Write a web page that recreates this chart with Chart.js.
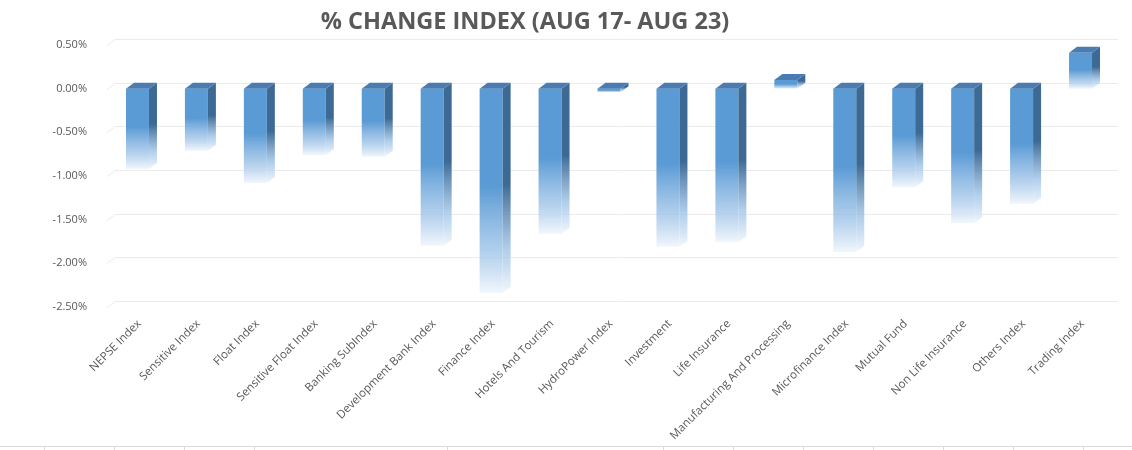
<!DOCTYPE html>
<html>
<head>
<meta charset="utf-8">
<script src="https://cdn.jsdelivr.net/npm/chart.js@4.4.1/dist/chart.umd.min.js"></script>
<style>
  html, body { margin: 0; padding: 0; background: #fff; }
  #wrap { position: relative; width: 1132px; height: 450px; overflow: hidden; }
  #title {
    position: absolute; left: 0; top: 4px; width: 1050px; text-align: center;
    font: bold 23.5px 'Open Sans', sans-serif; color: #595959;
  }
  #box { position: absolute; left: 0; top: 0; width: 1132px; height: 440px; }
  #sheet { position: absolute; left: 0; top: 446px; width: 1132px; height: 1px; background: #d9d9d9; }
  .mark { position: absolute; top: 446px; width: 1px; height: 4px; background: #d9d9d9; }
</style>
</head>
<body>
<div id="wrap">
  <div id="box"><canvas id="chart-bar"></canvas></div>
  <div id="title">% CHANGE INDEX (AUG 17- AUG 23)</div>
  <div id="sheet"></div>
</div>
<script>
const categories = [
    'NEPSE Index', 'Sensitive Index', 'Float Index', 'Sensitive Float Index',
    'Banking SubIndex', 'Development Bank Index', 'Finance Index', 'Hotels And Tourism',
    'HydroPower Index', 'Investment', 'Life Insurance', 'Manufacturing And Processing',
    'Microfinance Index', 'Mutual Fund', 'Non Life Insurance', 'Others Index', 'Trading Index'
];
const changePct = [
    -0.92, -0.71, -1.08, -0.76, -0.78, -1.80, -2.34, -1.66,
    -0.04, -1.81, -1.76, 0.10, -1.87, -1.13, -1.54, -1.32, 0.41
];
const yMin = -2.5;
const yMax = 0.5;
const yStep = 0.5;

// spreadsheet cell border marks under the chart
const sheetMarks = [44, 114, 184, 254, 447, 663, 733, 803, 873, 943, 1013, 1083];

const BLUE = '#5b9bd5';
const SIDE = '#3c6a94';
const TOP = '#4a7cb2';
const TEXT = '#595959';
const GRID = '#ebebeb';
const DX = 8, DY = 6;

sheetMarks.forEach(x => {
    const m = document.createElement('div');
    m.className = 'mark';
    m.style.left = x + 'px';
    document.getElementById('wrap').appendChild(m);
});

function fadeGradient(c, top, bottom, color) {
    const g = c.createLinearGradient(0, top, 0, bottom);
    g.addColorStop(0, color);
    g.addColorStop(0.48, color);
    g.addColorStop(0.8, 'rgba(160, 196, 232, 0.8)');
    g.addColorStop(1, 'rgba(240, 246, 252, 0.9)');
    return g;
}

function frontFill(context) {
    const chart = context.chart;
    const y = chart.scales.y;
    if (!y || context.raw == null) return BLUE;
    const a = y.getPixelForValue(Math.max(context.raw, 0));
    const b = y.getPixelForValue(Math.min(context.raw, 0));
    if (!isFinite(a) || !isFinite(b) || b - a < 2) return BLUE;
    return fadeGradient(chart.ctx, a, b, BLUE);
}

// slanted floor-style gridlines like the 3D chart
const wallGrid = {
    id: 'wallGrid',
    beforeDatasetsDraw(chart) {
        const c = chart.ctx;
        const y = chart.scales.y;
        const area = chart.chartArea;
        c.save();
        c.strokeStyle = GRID;
        c.lineWidth = 1;
        y.ticks.forEach(t => {
            const py = Math.round(y.getPixelForValue(t.value)) + 0.5;
            c.beginPath();
            c.moveTo(area.left - 1, py);
            c.lineTo(area.left + DX - 1, py - DY);
            c.lineTo(area.right + DX, py - DY);
            c.stroke();
        });
        c.restore();
    }
};

// side and top faces of each bar
const bar3d = {
    id: 'bar3d',
    afterDatasetsDraw(chart) {
        const c = chart.ctx;
        const meta = chart.getDatasetMeta(0);
        c.save();
        meta.data.forEach(el => {
            const p = el.getProps(['x', 'y', 'base', 'width'], true);
            const left = p.x - p.width / 2;
            const right = p.x + p.width / 2;
            const top = Math.min(p.y, p.base);
            const bottom = Math.max(p.y, p.base);

            c.beginPath();
            c.moveTo(right, top);
            c.lineTo(right + DX, top - DY);
            c.lineTo(right + DX, bottom - DY);
            c.lineTo(right, bottom);
            c.closePath();
            c.fillStyle = bottom - top > 2 ? fadeGradient(c, top - DY, bottom, SIDE) : SIDE;
            c.fill();

            c.beginPath();
            c.moveTo(left, top);
            c.lineTo(left + DX, top - DY);
            c.lineTo(right + DX, top - DY);
            c.lineTo(right, top);
            c.closePath();
            c.fillStyle = TOP;
            c.fill();
        });
        c.restore();
    }
};

const chartCtx = document.getElementById('chart-bar');

new Chart(chartCtx, {
    type: 'bar',
    data: {
        labels: categories,
        datasets: [{
            label: '% Change',
            data: changePct,
            backgroundColor: frontFill,
            borderWidth: 0,
            categoryPercentage: 1,
            barPercentage: 0.39
        }]
    },
    options: {
        responsive: true,
        maintainAspectRatio: false,
        animation: false,
        layout: {
            padding: { top: 45, right: 22, bottom: 0, left: 0 }
        },
        plugins: {
            legend: { display: false },
            title: { display: false },
            tooltip: { enabled: false }
        },
        scales: {
            y: {
                min: yMin,
                max: yMax,
                grid: { display: false },
                border: { display: false },
                afterFit: function(scale) { scale.width = 108; },
                ticks: {
                    stepSize: yStep,
                    padding: 13,
                    color: TEXT,
                    font: { family: "'Open Sans', sans-serif", size: 11 },
                    callback: function(value) {
                        return Number(value).toFixed(2) + '%';
                    }
                }
            },
            x: {
                grid: { display: false },
                border: { display: false },
                afterFit: function(scale) { scale.height = 133; },
                ticks: {
                    autoSkip: false,
                    minRotation: 45,
                    maxRotation: 45,
                    padding: 2,
                    labelOffset: 2,
                    color: TEXT,
                    font: { family: "'Open Sans', sans-serif", size: 11.5 }
                }
            }
        }
    },
    plugins: [wallGrid, bar3d]
});
</script>
</body>
</html>
